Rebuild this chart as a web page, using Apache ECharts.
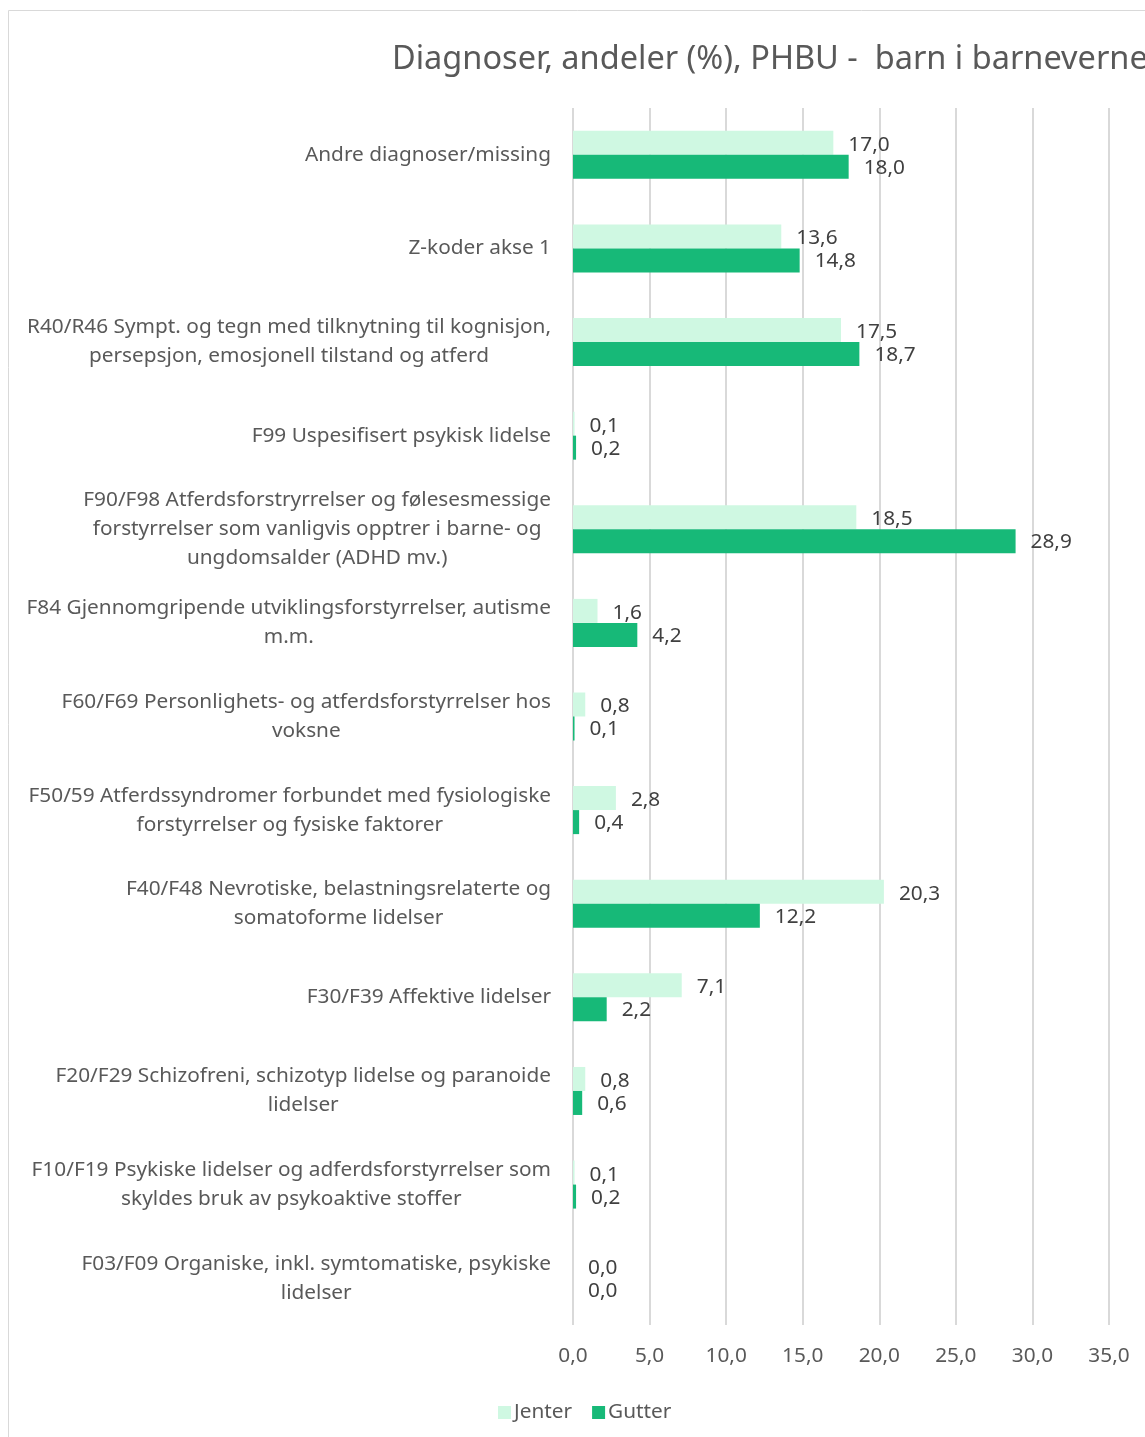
<!DOCTYPE html>
<html>
<head>
<meta charset="utf-8">
<script src="https://cdn.jsdelivr.net/npm/echarts@6/dist/echarts.min.js"></script>
<style>
  html, body { margin: 0; padding: 0; background: #fff; }
  #chart { width: 1145px; height: 1437px; }
</style>
</head>
<body>
<div id="chart"></div>
<script>
// diagnosegrupper, fra toppen og ned
var categories = [
  'Andre diagnoser/missing',
  'Z-koder akse 1',
  'R40/R46 Sympt. og tegn med tilknytning til kognisjon,\npersepsjon, emosjonell tilstand og atferd',
  'F99 Uspesifisert psykisk lidelse',
  'F90/F98 Atferdsforstryrrelser og følesesmessige\nforstyrrelser som vanligvis opptrer i barne- og\nungdomsalder (ADHD mv.)',
  'F84 Gjennomgripende utviklingsforstyrrelser, autisme\nm.m.',
  'F60/F69 Personlighets- og atferdsforstyrrelser hos\nvoksne',
  'F50/59 Atferdssyndromer forbundet med fysiologiske\nforstyrrelser og fysiske faktorer',
  'F40/F48 Nevrotiske, belastningsrelaterte og\nsomatoforme lidelser',
  'F30/F39 Affektive lidelser',
  'F20/F29 Schizofreni, schizotyp lidelse og paranoide\nlidelser',
  'F10/F19 Psykiske lidelser og adferdsforstyrrelser som\nskyldes bruk av psykoaktive stoffer',
  'F03/F09 Organiske, inkl. symtomatiske, psykiske\nlidelser'
];
var jenter = [17.0, 13.6, 17.5, 0.1, 18.5, 1.6, 0.8, 2.8, 20.3, 7.1, 0.8, 0.1, 0.0];
var gutter = [18.0, 14.8, 18.7, 0.2, 28.9, 4.2, 0.1, 0.4, 12.2, 2.2, 0.6, 0.2, 0.0];

var FONT = '"Noto Sans", "Open Sans", sans-serif';
var FS = 20.8;

function komma(v) {
  return Number(v).toFixed(1).replace('.', ',');
}

var chart = echarts.init(document.getElementById('chart'));

var option = {
  animation: false,
  textStyle: { fontFamily: FONT },
  graphic: [{
    type: 'rect',
    shape: { x: 8.5, y: 10.5, width: 1400, height: 1600 },
    style: { fill: 'none', stroke: '#d9d9d9', lineWidth: 1 },
    silent: true
  }],
  title: {
    text: 'Diagnoser, andeler (%), PHBU -  barn i barnevernet',
    left: 387,
    top: 38,
    textStyle: { fontFamily: FONT, fontSize: 32.5, fontWeight: 'normal', color: '#595959' }
  },
  legend: {
    data: ['Jenter', 'Gutter'],
    left: 493,
    top: 1397,
    itemWidth: 13,
    itemHeight: 13,
    itemGap: 20,
    icon: 'rect',
    textStyle: { fontFamily: FONT, fontSize: FS, color: '#595959', padding: [0, 0, 0, -2] }
  },
  grid: { left: 573, right: 36, top: 108, bottom: 112, containLabel: false },
  xAxis: {
    type: 'value',
    min: 0,
    max: 35,
    interval: 5,
    axisLine: { show: false },
    axisTick: { show: false },
    splitLine: { lineStyle: { color: '#d9d9d9', width: 2 } },
    axisLabel: {
      margin: 21,
      fontFamily: FONT,
      fontSize: FS,
      color: '#595959',
      formatter: komma
    }
  },
  yAxis: {
    type: 'category',
    inverse: true,
    data: categories,
    axisLine: { show: false },
    axisTick: { show: false },
    axisLabel: {
      margin: 22,
      fontFamily: FONT,
      fontSize: FS,
      lineHeight: 29,
      color: '#595959',
      align: 'right',
      formatter: function (v) {
        return v.split('\n').map(function (l) { return '{c|' + l + '}'; }).join('\n');
      },
      rich: {
        c: { align: 'center', fontFamily: FONT, fontSize: FS, lineHeight: 29, color: '#595959' }
      }
    }
  },
  series: [
    {
      name: 'Jenter',
      type: 'bar',
      data: jenter,
      barWidth: 24,
      barGap: '0%',
      itemStyle: { color: '#cff8e2' },
      label: {
        show: true,
        position: 'right',
        distance: 15,
        offset: [0, 2],
        fontFamily: FONT,
        fontSize: FS,
        color: '#404040',
        formatter: function (p) { return komma(p.value); }
      }
    },
    {
      name: 'Gutter',
      type: 'bar',
      data: gutter,
      barWidth: 24,
      barGap: '0%',
      itemStyle: { color: '#17b978' },
      label: {
        show: true,
        position: 'right',
        distance: 15,
        offset: [0, 1],
        fontFamily: FONT,
        fontSize: FS,
        color: '#404040',
        formatter: function (p) { return komma(p.value); }
      }
    }
  ]
};

chart.setOption(option);
</script>
</body>
</html>
